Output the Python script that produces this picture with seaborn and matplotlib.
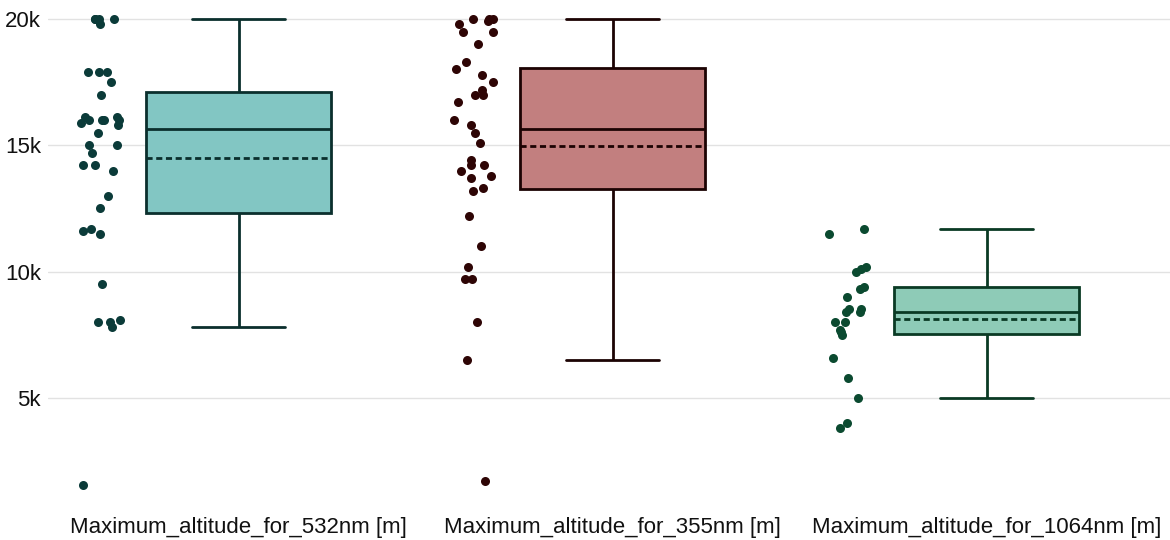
import numpy as np
import pandas as pd
import matplotlib
matplotlib.use("Agg")
import matplotlib.pyplot as plt
import seaborn as sns

# categories and values
categories = ["Maximum_altitude_for_532nm [m]",
              "Maximum_altitude_for_355nm [m]",
              "Maximum_altitude_for_1064nm [m]"]

alt_532 = [1560, 7800, 8000, 8000, 8100, 9500, 11500, 11600, 11700, 12500,
           13000, 14000, 14200, 14200, 14700, 15000, 15000, 15500, 15800, 15900,
           16000, 16000, 16000, 16000, 16100, 16100, 17000, 17500, 17900, 17900,
           17900, 19800, 20000, 20000, 20000, 20000]

alt_355 = [1700, 6500, 8000, 9700, 9700, 10200, 11000, 12200, 13200, 13300,
           13700, 13800, 14000, 14200, 14200, 14400, 15100, 15500, 15800, 16000,
           16700, 17000, 17000, 17200, 17500, 17800, 18000, 18300, 19000, 19500,
           19500, 20000, 20000, 20000, 19900, 19800]

alt_1064 = [3800, 4000, 5000, 5800, 6600, 7500, 7600, 7700, 8000, 8000,
            8400, 8400, 8500, 8500, 9000, 9300, 9400, 10000, 10100, 10200,
            11500, 11700]

fill_colors = ["#82c6c3", "#c27f7f", "#8ecbb7"]
line_colors = ["#0b2f2d", "#1c0303", "#0a3a24"]
point_colors = ["#0b3b39", "#2e0505", "#0b4a30"]

ytick_vals = [5000, 10000, 15000, 20000]
ytick_labels = ["5k", "10k", "15k", "20k"]

df = pd.DataFrame({
    "series": [categories[0]] * len(alt_532) + [categories[1]] * len(alt_355)
              + [categories[2]] * len(alt_1064),
    "value": alt_532 + alt_355 + alt_1064,
})

sns.set_style("white")
plt.rcParams["font.family"] = ["Liberation Sans", "DejaVu Sans"]
np.random.seed(7)

fig = plt.figure(figsize=(11.7, 5.4), dpi=100)
ax = fig.add_axes([48 / 1170, 40 / 540, 1 - 48 / 1170, 500 / 540])

for i, cat in enumerate(categories):
    sub = df[df["series"] == cat]
    sns.boxplot(data=sub, x="series", y="value", order=categories, ax=ax,
                color=fill_colors[i], linecolor=line_colors[i], saturation=1,
                width=0.495, linewidth=2, fliersize=0, whis=1.5,
                showmeans=True, meanline=True,
                meanprops=dict(color=line_colors[i], linestyle=(0, (2.2, 1.3)),
                               linewidth=2))
    n_before = len(ax.collections)
    sns.stripplot(data=sub, x="series", y="value", order=categories, ax=ax,
                  color=point_colors[i], size=6.5, jitter=0.055, linewidth=0)
    # points sit to the left of each box, as in the reference
    for coll in ax.collections[n_before:]:
        off = coll.get_offsets()
        if len(off):
            off[:, 0] -= 0.37
            coll.set_offsets(off)

ax.set_xlim(-0.51, 2.49)
ax.set_ylim(960, 20750)
ax.set_yticks(ytick_vals)
ax.set_yticklabels(ytick_labels)
ax.yaxis.grid(True, color="#e2e2e2", linewidth=1)
ax.set_axisbelow(True)
ax.tick_params(axis="both", length=0, labelsize=16, colors="#111111")
ax.tick_params(axis="x", pad=12)
ax.tick_params(axis="y", pad=5)
ax.set_xlabel("")
ax.set_ylabel("")
sns.despine(ax=ax, left=True, bottom=True)

fig.savefig("out.png", dpi=100)
